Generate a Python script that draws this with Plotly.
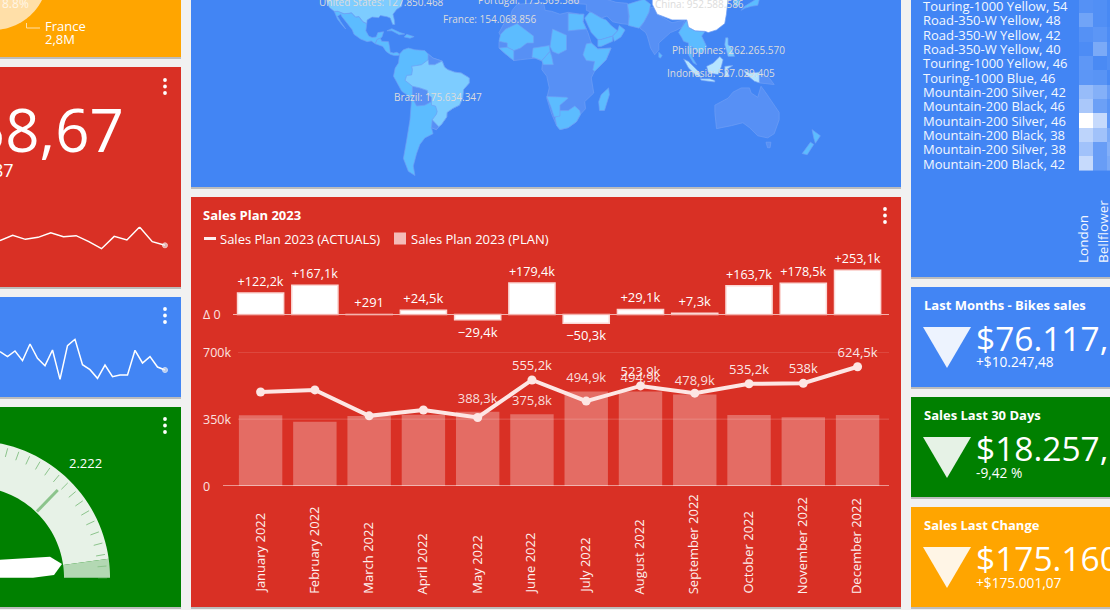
import numpy as np
import plotly.graph_objects as go

W, H = 1110, 610
RED, BLUE, GREEN, ORANGE, BG = "#d93025", "#4285f4", "#008000", "#ffa500", "#f1f1f1"
FONT = "Open Sans"

# ---------- Sales plan data ----------
months = ["January 2022", "February 2022", "March 2022", "April 2022", "May 2022", "June 2022",
          "July 2022", "August 2022", "September 2022", "October 2022", "November 2022", "December 2022"]
plan = [370.0, 336.0, 367.0, 373.5, 388.3, 375.8, 494.9, 494.9, 478.9, 371.5, 359.5, 371.4]
actual = [492.2, 503.1, 367.3, 398.0, 358.9, 555.2, 444.6, 523.9, 486.2, 535.2, 538.0, 624.5]
variance = [122.2, 167.1, 0.291, 24.5, -29.4, 179.4, -50.3, 29.1, 7.3, 163.7, 178.5, 253.1]
variance_labels = ["+122,2k", "+167,1k", "+291", "+24,5k", "−29,4k", "+179,4k", "−50,3k", "+29,1k",
                   "+7,3k", "+163,7k", "+178,5k", "+253,1k"]
actual_labels = ["", "", "", "", "", "555,2k", "", "523,9k", "", "535,2k", "538k", "624,5k"]
plan_labels = ["", "", "", "", "388,3k", "375,8k", "494,9k", "494,9k", "478,9k", "", "", ""]
main_ticks = [(0, "0"), (350, "350k"), (700, "700k")]

# ---------- Sparklines ----------
spark_red = [28, 44, 32, 38, 52, 40, 43, 25, 4, 41, 30, 69, 25, 14]
spark_blue = [90, 75, 92, 63, 113, 70, 48, 95, 7, 108, 127, 51, 36, 10, 50, 15, 20, 20, 94, 56, 75, 44, 35]

# ---------- Heatmap ----------
heat_rows = ["Mountain-200 Black, 42", "Mountain-200 Silver, 38", "Mountain-200 Black, 38",
             "Mountain-200 Silver, 46", "Mountain-200 Black, 46", "Mountain-200 Silver, 42",
             "Touring-1000 Blue, 46", "Touring-1000 Yellow, 46", "Road-350-W Yellow, 40",
             "Road-350-W Yellow, 42", "Road-350-W Yellow, 48", "Touring-1000 Yellow, 54"]
heat_cols = ["London", "Bellflower", "Seattle"]
heat_col_label_px = [1083, 1102.5]
heat_values = [[.70, .20, .30], [.50, .20, .35], [.65, .50, .30], [1.0, .70, .15], [.55, .22, .12],
               [.45, .35, .20], [.14, .12, .03], [.15, .04, .08], [.06, .30, .08], [.10, .14, .06],
               [.25, .08, .03], [.10, .08, .03]]

# ---------- Map outlines (lon, lat) ----------
M_DIM, M_MID, M_LIGHT, M_PALE, M_WHITE = "#5790f5", "#5cbcff", "#7dccff", "#b5e4ff", "#ffffff"
africa = [(-17,15),(-16,19),(-17,21),(-14,26),(-10,30),(-9,33),(-6,36),(10,37),(11,33),(15,32.5),(20,31),(25,32),(32,31),(34.5,31),(34,27),(36,23),(37,21),(39,15),(43,11.5),(51,12),(48,5),(41,-2),(39,-6),(40.5,-15),(35,-20),(35.5,-24),(32.5,-27),(30,-31),(25,-34),(20,-35),(18,-33),(15,-27),(12,-18),(13.5,-12),(12,-5),(9,-1),(9.5,4),(5,6),(-4,5),(-8,4.5),(-13,8.5),(-17,12)]
middle_east = [(26,38.5),(44,38.5),(48,38.5),(54,37),(61,36.5),(61.5,31),(62,25.5),(57,26),(52,27),(48.5,30),(45,29),(39,32),(36,33),(36,36),(28,36.5)]
india = [(74,34),(78,35),(79,31),(88,26.5),(96,28),(94,24),(91,22.5),(87,21),(80,15),(80,11),(77.5,8),(75,12),(73,19),(72,21),(68.5,23.5),(71,27),(74,32)]
australia = [(114,-22),(122,-18),(125,-14.5),(130,-12),(135,-12),(136,-15),(140,-17.5),(142,-11),(145,-15),(153,-26),(153,-30),(150,-37),(146,-39),(140,-38),(135,-34),(131,-31.5),(124,-33),(115,-34.5),(114,-26)]
tasmania = [(145,-41),(148,-41),(147.5,-43.5),(146,-43.5)]
guianas = [(-60,8.5),(-57,6),(-51.5,4.2),(-56,2),(-59.5,2),(-60,5)]
bolivia = [(-69.5,-11),(-65,-12),(-60.5,-13.5),(-60,-16),(-58,-17.5),(-58,-20),(-62,-22),(-67,-22.5),(-69.5,-18)]
uruguay = [(-57.5,-30),(-53.5,-33.5),(-55,-35),(-58,-34)]
png = [(141,-2.5),(147,-6),(150,-10),(141,-9)]
south_america = [(-77.3,8.5),(-75,11),(-72,12),(-68,11),(-62,10.5),(-60,8.5),(-57,6),(-51.5,4.2),(-50,0.5),(-48,-1),(-44,-2.5),(-40,-3),(-37,-4.8),(-35,-6),(-35,-9),(-38.5,-13),(-39,-18),(-41,-22),(-45,-23.8),(-48.5,-26),(-48.7,-28.5),(-52,-32.5),(-53.5,-33.5),(-55,-35),(-58,-34),(-57,-37),(-62,-39),(-65,-42),(-67,-46),(-69,-51),(-68,-54.5),(-72,-53),(-75,-48),(-73,-40),(-71,-30),(-70,-18),(-76,-14),(-81,-5),(-80,0),(-78,3)]
mexico = [(-117,32.5),(-114.7,32.5),(-111,31.3),(-108,31.5),(-106.5,31.8),(-104,29.5),(-102,29.8),(-99.5,27),(-97.2,26),(-97.8,22),(-96,19),(-94,18.2),(-91.5,18.5),(-90.5,21),(-87,21.5),(-88,18.5),(-89,17.8),(-91,17),(-92,14.5),(-94.5,16.2),(-97,15.8),(-101,17.3),(-105,20),(-106,22.5),(-109,26),(-112.5,30),(-113,31),(-115,30),(-113,27),(-110,23),(-112,25),(-115,28.5)]
central_america = [(-92,14.5),(-91,17),(-89,17.8),(-88.2,16),(-84,15.8),(-83.3,12),(-83,9.5),(-81,9),(-79,9.5),(-77.3,8.5),(-78,7.5),(-80.5,7.5),(-83,8.3),(-85.5,10),(-87.5,13)]
cuba = [(-85,22),(-82,23.2),(-77,21),(-74.2,20.2),(-77.5,19.8),(-82,22)]
hispaniola = [(-74.5,18.5),(-73,20),(-68.5,18.7),(-71,17.8)]
egypt = [(25,31.5),(32,31),(34.5,31),(34,27),(36,23),(25,22)]
mali = [(-17,16),(-16,20),(-13,23),(-6,26),(-4.5,25),(4,19),(4,15),(0,15),(-4,12),(-8,10.5),(-12,12.5),(-12,15)]
west_africa = [(-17,12),(-12,12.5),(-8,10.5),(-8,4.5),(-13,8.5)]
chad = [(14,13),(15.5,23),(24,19.5),(24,11),(19,8.5),(15.5,10)]
nigeria = [(3,6.5),(3.7,12),(13.5,13.5),(14,10),(9,4.5),(5,6)]
cameroon = [(9,4.5),(14,10),(15,7),(16,2),(10,2)]
ethiopia = [(36,14.5),(39,15),(43,11.5),(51,12),(48,5),(41,-2),(40,-1),(41,4),(36,4.5),(34,8)]
south_africa = [(17,-29),(20,-25),(25,-25),(29,-22.5),(32,-25),(32.5,-27),(30,-31),(25,-34),(20,-35),(18,-33)]
namibia = [(12,-17),(24,-17.5),(25,-18),(20,-22),(20,-28),(16.5,-28.5),(14.5,-23)]
madagascar = [(49.5,-12),(50,-16),(47,-25),(44,-25),(43.5,-20),(45,-16)]
saudi = [(35,29),(38,32),(39,32),(45,29),(48,28),(51,25),(55,22),(52,19),(45,17),(43,17),(39,21),(37,25)]
oman = [(52,19),(55,22),(56,25),(59.5,22.5),(57,18.5),(53,16)]
yemen = [(43,13),(45,13),(52,16),(52,19),(45,17),(43,17)]
pakistan = [(61,36),(71,38.5),(75,36),(74,32),(71,27),(68,23.5),(61.5,25),(62,30)]
sri_lanka = [(80,9.5),(82,7.5),(81,6),(80,6.5)]
indochina = [(92,21),(94,24),(97,28),(98,24),(102,22),(108,21.7),(106,19),(109,13),(106,9),(104,9),(100,13),(100,7),(103,2),(101,3),(98,8),(98,15),(95,16),(94,18)]
japan = [(130,33),(132,34),(136,35),(140,35.5),(141,38.5),(139,38.5),(136,37),(132,35)]
korea = [(125,38.5),(129,38.5),(129,35.5),(126.5,34.5)]
philippines = [(120.5,18),(122,18),(122,14),(124,12.5),(126,7),(122,7),(120,14)]
new_zealand_n = [(173,-35),(178,-38),(175,-41.5),(174,-39)]
new_zealand_s = [(172,-41),(174,-42),(170,-46.5),(167,-46)]
usa = [(-122,38.5),(-120,34.5),(-117,32.5),(-114.7,32.5),(-111,31.3),(-108,31.5),(-106.5,31.8),(-104,29.5),(-102,29.8),(-99.5,27),(-97.2,26),(-97,28),(-94,29.5),(-90,29.2),(-89,30.3),(-85,29.7),(-83,29),(-81.5,25.5),(-80.2,25.5),(-80.5,28),(-81.3,31),(-79,33.5),(-76,35),(-75.5,38.5)]
brazil = [(-51.5,4.2),(-50,0.5),(-48,-1),(-44,-2.5),(-40,-3),(-37,-4.8),(-35,-6),(-35,-9),(-38.5,-13),(-39,-18),(-41,-22),(-45,-23.8),(-48.5,-26),(-48.7,-28.5),(-52,-32.5),(-53.5,-33.5),(-57.5,-30),(-55,-27),(-54.5,-25.5),(-55.5,-22.5),(-58,-22),(-58,-17.5),(-60,-16),(-60.5,-13.5),(-65,-12),(-69.5,-11),(-74,-7.5),(-73,-4.5),(-70,-4.2),(-69.5,-1),(-70,1),(-67,1.5),(-64,2),(-60,5),(-59.5,2),(-56,2)]
sumatra = [(95,5.5),(98,4),(104,-2),(106,-6),(102,-4),(98,0)]
borneo = [(109,1),(113,3),(117,7),(119,5),(118,1),(116,-4),(110,-3)]
java = [(105,-6.5),(111,-6.5),(114,-7.5),(114,-8.5),(106,-7.5)]
sulawesi = [(120,1),(125,1.5),(121,-1),(123,-5),(120,-5)]
west_papua = [(131,-1),(135,-3),(141,-2.5),(141,-9),(138,-8),(133,-4)]
china = [(76,38.5),(122,38.5),(121,31),(120,26),(115,22.5),(110,21),(108,21.7),(102,22),(98,24),(97,28),(88,28),(79,31),(76,36)]
map_layers = [
    (M_MID, [south_america, mexico, central_america, cuba, hispaniola]),
    (M_DIM, [africa, middle_east, india, australia, tasmania, guianas, bolivia, uruguay, png]),
    (M_MID, [egypt, mali, west_africa, chad, nigeria, cameroon, ethiopia, south_africa, namibia, madagascar,
             saudi, oman, yemen, pakistan, sri_lanka, indochina, japan, korea, new_zealand_n, new_zealand_s]),
    (M_LIGHT, [usa, brazil, philippines]),
    (M_PALE, [sumatra, borneo, java, sulawesi, west_papua]),
    (M_WHITE, [china]),
]
map_names = ["United States: 127.850.468", "Portugal: 173.569.586", "France: 154.068.856", "Brazil: 175.634.347",
             "China: 952.588.586", "Philippines: 262.265.570", "Indonesia: 527.029.405"]
map_lons = [-88, 1.5, -22.5, -54, 104.5, 122, 118]
map_lats = [37.1, 38.0, 28.5, -17.5, 36.4, 11, -3.3]

# ---------- Helpers ----------
def px(x): return x / W
def py(y): return 1 - y / H
def dom_x(a, b): return [px(a), px(b)]
def dom_y(top, bottom): return [py(bottom), py(top)]
def merc(lat): return float(np.log(np.tan(np.pi / 4 + np.radians(lat) / 2)))

fig = go.Figure()
shapes, ann = [], []

def card(x0, y0, x1, y1, color):
    shapes.append(dict(type="rect", xref="paper", yref="paper", x0=px(x0), x1=px(x1), y0=py(y1 + 2), y1=py(y0 + 1),
                       fillcolor="rgba(0,0,0,0.22)", line_width=0, layer="below"))
    shapes.append(dict(type="rect", xref="paper", yref="paper", x0=px(x0), x1=px(x1), y0=py(y1), y1=py(y0),
                       fillcolor=color, line_width=0, layer="below"))

def dots(x, y):
    for k in range(3):
        shapes.append(dict(type="circle", xref="paper", yref="paper", x0=px(x - 1.9), x1=px(x + 1.9),
                           y0=py(y + 6.5 * k + 1.9), y1=py(y + 6.5 * k - 1.9), fillcolor="white", line_width=0))

def text(x, y, s, size=12, anchor="left", color="white", bold=False, yanchor="middle", angle=0, xref="paper", yref="paper", xshift=0):
    ann.append(dict(x=px(x) if xref == "paper" else x, y=py(y) if yref == "paper" else y, xref=xref, yref=yref,
                    text=f"<b>{s}</b>" if bold else s, showarrow=False, xanchor=anchor, yanchor=yanchor, xshift=xshift,
                    textangle=angle, font=dict(family=FONT, size=size, color=color), borderpad=0, borderwidth=0))

card(0, -5, 181, 57, ORANGE)
card(0, 67, 181, 287, RED)
card(0, 297, 181, 397, BLUE)
card(0, 407, 181, 607, GREEN)
card(191, -5, 901, 187, BLUE)
card(191, 197, 901, 607, RED)
card(911, -5, 1115, 277, BLUE)
card(911, 287, 1115, 387, BLUE)
card(911, 397, 1115, 497, GREEN)
card(911, 507, 1115, 607, ORANGE)
for d in [(165, 80), (165, 309), (165, 419), (885, 209)]:
    dots(*d)

# Page-sized axes for the gauge and pie fragments
fig.update_layout(xaxis=dict(domain=[0, 1], range=[0, W], visible=False, fixedrange=True),
                  yaxis=dict(domain=[0, 1], range=[H, 0], visible=False, fixedrange=True))

# Pie fragment
t = np.radians(np.linspace(-5, 130, 60))
pie_x = -7 + 55 * np.cos(t)
pie_y = -25 + 55 * np.sin(t)
fig.add_trace(go.Scatter(x=np.r_[pie_x, -7], y=np.r_[pie_y, -25], fill="toself", fillcolor="#ffdfa8", mode="none",
                         hoverinfo="skip", xaxis="x", yaxis="y"))
fig.add_trace(go.Scatter(x=[26.5, 26.5, 40], y=[23, 28, 28], mode="lines", line=dict(color="#ffdfa8", width=1),
                         hoverinfo="skip", xaxis="x", yaxis="y"))
text(2, 3, "8.8%", 12, color="#fff6e6")
text(45, 26, "France", 13)
text(45, 39, "2,8M", 13)

# Red KPI
text(124, 129, "58,67", 60, anchor="right")
text(14, 170, "87", 18, anchor="right")

# Gauge
GX, GY, R0, R1 = -27, 577.7, 91, 137
def ring(a0, a1, color):
    a = np.radians(np.linspace(a0, a1, 70))
    xs = np.r_[GX + R1 * np.cos(a), GX + R0 * np.cos(a[::-1])]
    ys = np.r_[GY - R1 * np.sin(a), GY - R0 * np.sin(a[::-1])]
    fig.add_trace(go.Scatter(x=xs, y=ys, fill="toself", fillcolor=color, mode="none", hoverinfo="skip", xaxis="x", yaxis="y"))
ring(8, 180, "#e7f2e7")
ring(0, 8, "#b3d8b3")
tx, ty = [], []
for deg in range(0, 130, 5):
    a = np.radians(deg)
    tx += [GX + 125 * np.cos(a), GX + 134 * np.cos(a), None]
    ty += [GY - 125 * np.sin(a), GY - 134 * np.sin(a), None]
fig.add_trace(go.Scatter(x=tx, y=ty, mode="lines", line=dict(color="#8cc48c", width=1), hoverinfo="skip", xaxis="x", yaxis="y"))
major = np.radians(46)
fig.add_trace(go.Scatter(x=[GX + 92 * np.cos(major), GX + 122 * np.cos(major)], y=[GY - 92 * np.sin(major), GY - 122 * np.sin(major)],
                         mode="lines", line=dict(color="#8cc48c", width=3), hoverinfo="skip", xaxis="x", yaxis="y"))
needle_dx = [-27, 77, 89, 81, 60, 0, -27]
needle_dy = [14.7, 21, 13.7, 2.7, 0, 0, 0]
fig.add_trace(go.Scatter(x=[GX + d for d in needle_dx], y=[GY - d for d in needle_dy], fill="toself", fillcolor="white",
                         mode="none", hoverinfo="skip", xaxis="x", yaxis="y"))
text(85, 463, "2.222", 13, anchor="center")

# Right KPI cards
kpis = [(287, "Last Months - Bikes sales", "$76.117,", "+$10.247,48", "#edf3fe"),
        (397, "Sales Last 30 Days", "$18.257,", "-9,42 %", "#e6f2e6"),
        (507, "Sales Last Change", "$175.160", "+$175.001,07", "#fff5e6")]
for top, title, value, delta, tri in kpis:
    text(923.5, top + 18, title, 13, bold=True)
    text(976, top + 50.5, value, 33.5)
    text(976, top + 75, delta, 13.7)
    shapes.append(dict(type="path", xref="paper", yref="paper", line_width=0, fillcolor=tri,
                       path=f"M {px(923)} {py(top + 40)} L {px(971)} {py(top + 40)} L {px(947)} {py(top + 81)} Z"))

# Main card text + legend
text(203, 215, "Sales Plan 2023", 13, bold=True)
text(220, 238.5, "Sales Plan 2023 (ACTUALS)", 13)
text(411, 238.5, "Sales Plan 2023 (PLAN)", 13)
shapes.append(dict(type="rect", xref="paper", yref="paper", x0=px(204), x1=px(216), y0=py(240), y1=py(237), fillcolor="#fdeeee", line_width=0))
shapes.append(dict(type="rect", xref="paper", yref="paper", x0=px(394), x1=px(406), y0=py(244.5), y1=py(232.5), fillcolor="#f4bcb8", line_width=0))

# Sparklines
fig.add_trace(go.Scatter(x=list(range(len(spark_red))), y=spark_red, mode="lines+markers", line=dict(color="white", width=1.5),
                         marker=dict(size=[0] * (len(spark_red) - 1) + [5], color="#e8e8e8"), cliponaxis=False, hoverinfo="skip", xaxis="x2", yaxis="y2"))
fig.add_trace(go.Scatter(x=list(range(len(spark_blue))), y=spark_blue, mode="lines+markers", line=dict(color="white", width=1.5),
                         marker=dict(size=[0] * (len(spark_blue) - 1) + [5], color="#e8e8e8"), cliponaxis=False, hoverinfo="skip", xaxis="x3", yaxis="y3"))
fig.update_layout(
    xaxis2=dict(domain=dom_x(0, 170), range=[0, 170 / 12.69], visible=False, anchor="y2"),
    yaxis2=dict(domain=dom_y(226.7, 250), range=[0, 70], visible=False, anchor="x2"),
    xaxis3=dict(domain=dom_x(0, 170), range=[0, 170 / 7.5], visible=False, anchor="y3"),
    yaxis3=dict(domain=dom_y(338.3, 381.7), range=[0, 130], visible=False, anchor="x3"),
)

# Map: region outlines as axis-referenced paths, above everything else
for color, polys in map_layers:
    for p in polys:
        path = "M " + " L ".join(f"{lon} {merc(lat):.5f}" for lon, lat in p) + " Z"
        shapes.append(dict(type="path", xref="x4", yref="y4", path=path, fillcolor=color,
                           line=dict(color="#6f9df5", width=0.7), layer="above"))
fig.add_trace(go.Scatter(x=[0], y=[0], mode="markers", marker=dict(size=0, opacity=0), hoverinfo="skip", xaxis="x4", yaxis="y4"))
for name, lon, lat in zip(map_names, map_lons, map_lats):
    text(lon, merc(lat), name, 10, anchor="center", color="#dcdcdc", xref="x4", yref="y4")
fig.update_layout(
    xaxis4=dict(domain=dom_x(191, 901), range=[(191 - 527) / 1.648, (901 - 527) / 1.648], visible=False, anchor="y4"),
    yaxis4=dict(domain=dom_y(0, 187), range=[(68 - 187) / 94.4, 68 / 94.4], visible=False, anchor="x4"),
)

# Variance bars
idx = list(range(12))
fig.add_trace(go.Bar(x=idx, y=variance, width=0.85, text=variance_labels, textposition="outside", cliponaxis=False, textangle=0,
                     textfont=dict(family=FONT, size=13, color="white"), marker=dict(color="white", line=dict(color="#fbd8d5", width=1.5)),
                     hoverinfo="skip", xaxis="x5", yaxis="y5"))
x_range = [(223 - 260.6) / 54.27, (889 - 260.6) / 54.27]
fig.update_layout(
    xaxis5=dict(domain=dom_x(223, 889), range=x_range, visible=False, anchor="y5"),
    yaxis5=dict(domain=dom_y(262, 332), range=[-100, 300], visible=False, anchor="x5"),
)
shapes.append(dict(type="line", xref="paper", yref="y5", x0=px(233), x1=px(889), y0=0, y1=0, line=dict(color="#f4b3ae", width=1)))
text(203, 314.5, "Δ 0", 12.5, color="#fbe3e1")

# Plan bars + actual line
fig.add_trace(go.Bar(x=idx, y=plan, width=0.8, marker=dict(color="rgba(255,255,255,0.29)", line_width=0),
                     hoverinfo="skip", xaxis="x6", yaxis="y6"))
fig.add_trace(go.Scatter(x=idx, y=plan, text=plan_labels, mode="markers+text", textposition="top center", cliponaxis=False,
                         marker=dict(size=8, opacity=0), textfont=dict(family=FONT, size=13, color="rgba(255,255,255,0.85)"),
                         hoverinfo="skip", xaxis="x6", yaxis="y6"))
fig.add_trace(go.Scatter(x=idx, y=actual, text=actual_labels, mode="lines+markers+text", textposition="top center", cliponaxis=False,
                         line=dict(color="#fde6e4", width=4), marker=dict(size=9, color="#fde6e4"),
                         textfont=dict(family=FONT, size=13, color="rgba(255,255,255,0.9)"), hoverinfo="skip", xaxis="x6", yaxis="y6"))
fig.update_layout(
    xaxis6=dict(domain=dom_x(223, 889), range=x_range, visible=False, anchor="y6"),
    yaxis6=dict(domain=dom_y(352.3, 486), range=[0, 700], visible=False, anchor="x6"),
)
for val, label in main_ticks:
    if val:
        shapes.append(dict(type="line", xref="paper", yref="y6", x0=px(238), x1=px(889), y0=val, y1=val,
                           line=dict(color="rgba(255,255,255,0.2)", width=1), layer="above"))
    else:
        shapes.append(dict(type="line", xref="paper", yref="y6", x0=px(223), x1=px(889), y0=0, y1=0, line=dict(color="white", width=1)))
    text(203, 0, label, 12.5, color="#fbe3e1", yref="y6")
    ann[-1]["y"] = val
for i, m in enumerate(months):
    text(i, 594, m, 13, anchor="center", yanchor="bottom", angle=-90, xref="x6", color="#fdf0ef", xshift=-1.5)

# Heatmap
fig.add_trace(go.Heatmap(z=heat_values, x=list(range(3)), y=list(range(12)), zmin=0, zmax=1, showscale=False,
                         colorscale=[[0, BLUE], [1, "#ffffff"]], hoverinfo="skip", xaxis="x7", yaxis="y7"))
fig.update_layout(
    xaxis7=dict(domain=dom_x(1079, 1110), range=[-0.5, -0.5 + 31 / 14], visible=False, anchor="y7"),
    yaxis7=dict(domain=dom_y(0, 170.7), range=[-0.5, -0.5 + 170.7 / 14.33], visible=False, anchor="x7"),
)
for i, r in enumerate(heat_rows):
    text(923, i, r, 13, yref="y7", color="#f2f7ff")
for c, xp in zip(heat_cols[:2], heat_col_label_px):
    text(xp, 263, c, 13.5, anchor="center", yanchor="bottom", angle=-90, color="#f2f7ff")

fig.update_layout(width=W, height=H, autosize=False, margin=dict(l=0, r=0, t=0, b=0), paper_bgcolor=BG, plot_bgcolor="rgba(0,0,0,0)",
                  showlegend=False, barmode="overlay", shapes=shapes, annotations=ann, font=dict(family=FONT),
                  hovermode=False)
fig.write_html("out.html", config={"displayModeBar": False},
               post_script="document.body.style.margin='0';document.documentElement.style.overflow='hidden';")
